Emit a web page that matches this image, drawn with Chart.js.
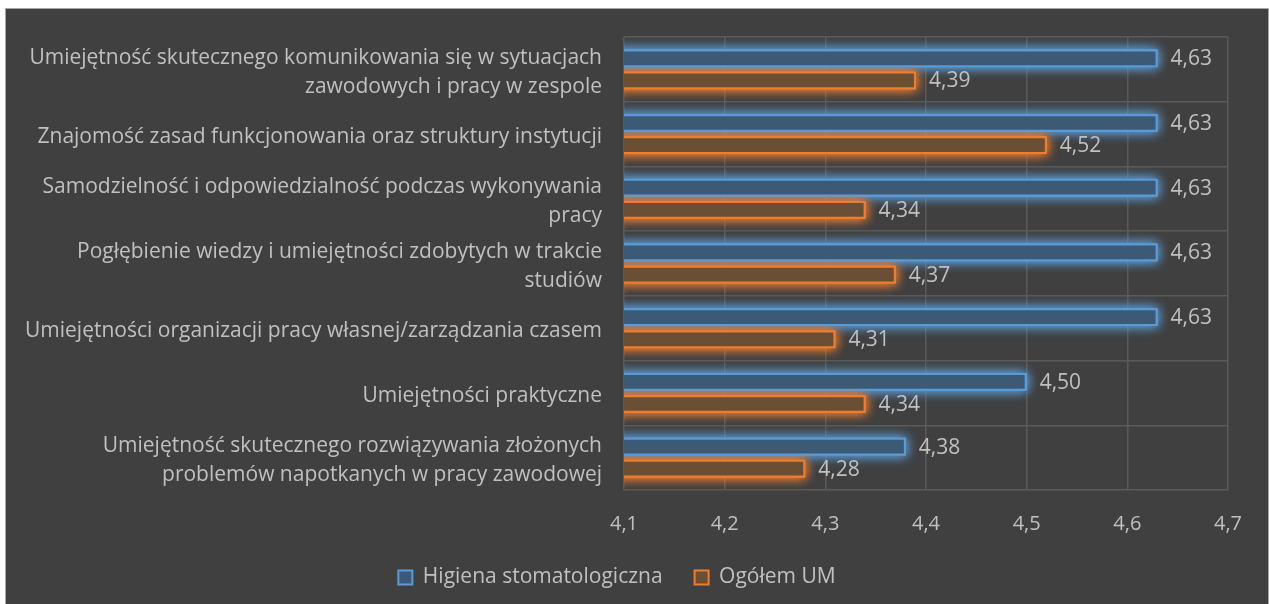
<!DOCTYPE html>
<html lang="pl">
<head>
<meta charset="UTF-8">
<title>Kompetencje - Higiena stomatologiczna</title>
<script src="https://cdn.jsdelivr.net/npm/chart.js"></script>
<style>
  body { margin: 0; background: #ffffff; }
  #wrap {
    position: absolute; left: 5px; top: 8px;
    width: 1262px; height: 596px;
    background: #404040;
    border-left: 1px solid #a6a6a6; border-top: 1px solid #a6a6a6; border-right: 1px solid #a6a6a6;
  }
</style>
</head>
<body>
<div id="wrap"><canvas id="chart"></canvas></div>
<script>
const categories = [
  ['Umiejętność skutecznego komunikowania się w sytuacjach', 'zawodowych i pracy w zespole'],
  'Znajomość zasad funkcjonowania oraz struktury instytucji',
  ['Samodzielność i odpowiedzialność podczas wykonywania', 'pracy'],
  ['Pogłębienie wiedzy i umiejętności zdobytych w trakcie', 'studiów'],
  'Umiejętności organizacji pracy własnej/zarządzania czasem',
  'Umiejętności praktyczne',
  ['Umiejętność skutecznego rozwiązywania złożonych', 'problemów napotkanych w pracy zawodowej']
];
const higiena = [4.63, 4.63, 4.63, 4.63, 4.63, 4.50, 4.38];
const ogolem = [4.39, 4.52, 4.34, 4.37, 4.31, 4.34, 4.28];
const seriesNames = ['Higiena stomatologiczna', 'Ogółem UM'];

const textColor = '#c0c0c0';
const gridColor = '#5a5a5a';
const fontFamily = '"Open Sans", sans-serif';

const fmt = (v, d) => v.toFixed(d).replace('.', ',');

// soft glow behind the bars (bar element clips its own drawing, so paint it first)
const glow = {
  id: 'glow',
  beforeDatasetsDraw(chart) {
    const ctx = chart.ctx;
    const area = chart.chartArea;
    ctx.save();
    ctx.beginPath();
    ctx.rect(area.left, area.top - 20, area.right - area.left + 20, area.bottom - area.top + 40);
    ctx.clip();
    chart.data.datasets.forEach((ds, i) => {
      ctx.shadowColor = ds.borderColor;
      ctx.fillStyle = ds.borderColor;
      ctx.shadowBlur = 12;
      chart.getDatasetMeta(i).data.forEach(bar => {
        const { x, y, base, height } = bar.getProps(['x', 'y', 'base', 'height'], true);
        ctx.fillRect(base, y - height / 2, x - base, height);
        ctx.fillRect(base, y - height / 2, x - base, height);
      });
    });
    ctx.restore();
  }
};

// value labels at the end of each bar
const valueLabels = {
  id: 'valueLabels',
  afterDatasetsDraw(chart) {
    const ctx = chart.ctx;
    ctx.save();
    ctx.font = '21px ' + fontFamily;
    ctx.fillStyle = textColor;
    ctx.textAlign = 'left';
    ctx.textBaseline = 'middle';
    chart.data.datasets.forEach((ds, i) => {
      chart.getDatasetMeta(i).data.forEach((bar, j) => {
        ctx.fillText(fmt(ds.data[j], 2), bar.x + 13, bar.y + 1);
      });
    });
    ctx.restore();
  }
};

new Chart(document.getElementById('chart'), {
  type: 'bar',
  data: {
    labels: categories,
    datasets: [
      {
        label: seriesNames[0],
        data: higiena,
        backgroundColor: '#3c5a75',
        borderColor: '#5b9bd5',
        borderWidth: 2,
        borderSkipped: false
      },
      {
        label: seriesNames[1],
        data: ogolem,
        backgroundColor: '#6b4f35',
        borderColor: '#ed7d31',
        borderWidth: 2,
        borderSkipped: false
      }
    ]
  },
  options: {
    indexAxis: 'y',
    responsive: true,
    maintainAspectRatio: false,
    animation: false,
    categoryPercentage: 0.684,
    barPercentage: 0.8,
    layout: { padding: { top: 28, right: 40, bottom: 7, left: 0 } },
    scales: {
      x: {
        min: 4.1,
        max: 4.7,
        afterFit(scale) { scale.height = 45; },
        ticks: {
          stepSize: 0.1,
          color: textColor,
          font: { family: fontFamily, size: 20 },
          padding: 22,
          callback: v => fmt(v, 1)
        },
        grid: { color: gridColor, lineWidth: 1.5, drawTicks: false },
        border: { display: false }
      },
      y: {
        afterFit(scale) {
          scale.width = 618;
          scale.paddingTop = 0;
          scale.paddingBottom = 0;
        },
        ticks: {
          color: textColor,
          font: { family: fontFamily, size: 21, lineHeight: 1.38 },
          padding: 22,
          labelOffset: 3
        },
        grid: { color: gridColor, lineWidth: 1.5, offset: true, drawTicks: false },
        border: { display: false }
      }
    },
    plugins: {
      legend: {
        position: 'bottom',
        labels: {
          color: textColor,
          font: { family: fontFamily, size: 21 },
          boxWidth: 14,
          boxHeight: 14,
          padding: 32
        }
      },
      tooltip: { enabled: false }
    }
  },
  plugins: [glow, valueLabels]
});
</script>
</body>
</html>
